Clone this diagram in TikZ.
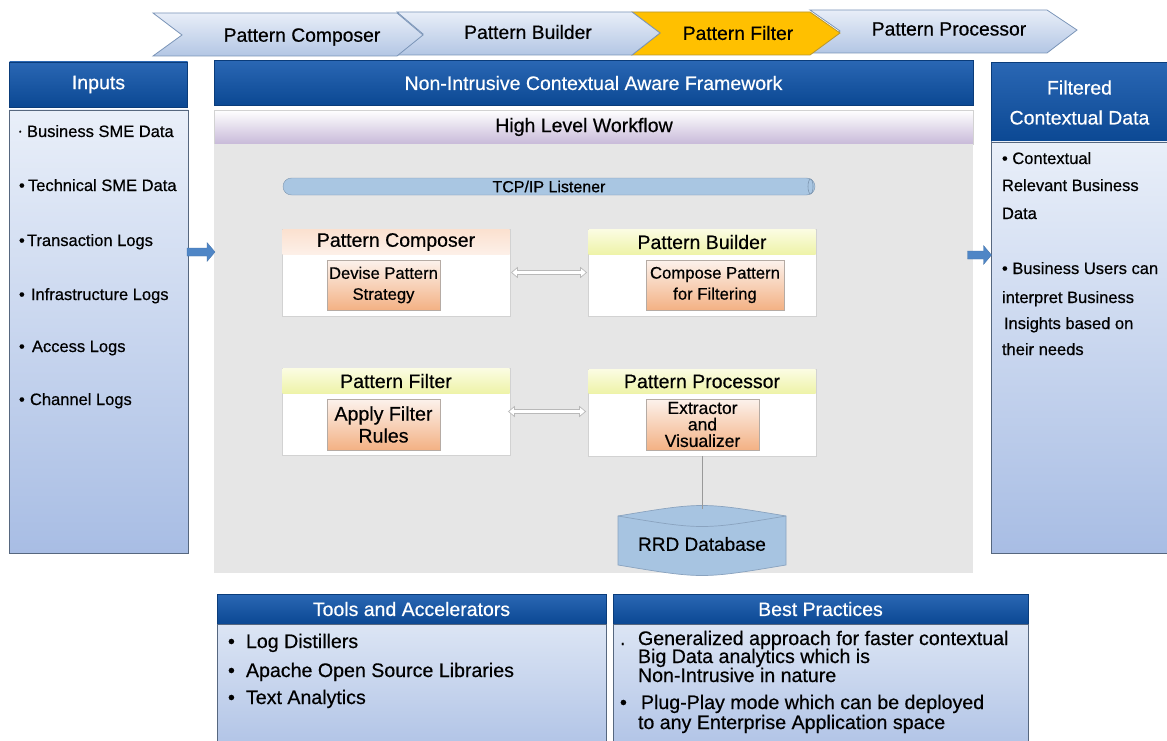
\documentclass[tikz,border=0pt]{standalone}
\usepackage{fontspec}
\setmainfont[FakeBold=0.5]{Liberation Sans}
\usetikzlibrary{shapes.geometric,shapes.misc,calc}
\newcommand{\myfs}[2]{\fontsize{#1pt}{#2pt}\selectfont}
\definecolor{hdrtop}{HTML}{2A67B4}
\definecolor{hdrbot}{HTML}{0B4893}
\definecolor{hdrline}{HTML}{0A3C7A}
\definecolor{paneltop}{HTML}{E9EFF9}
\definecolor{panelbot}{HTML}{A8BDE4}
\definecolor{paneltwotop}{HTML}{DCE5F4}
\definecolor{paneltwobot}{HTML}{B0C3E6}
\definecolor{panelline}{HTML}{56677F}
\definecolor{chevtop}{HTML}{E8EEF8}
\definecolor{chevbot}{HTML}{B3C6E4}
\definecolor{chevline}{HTML}{7B95B8}
\definecolor{chevyel}{HTML}{FFC000}
\definecolor{chevyline}{HTML}{B8962E}
\definecolor{graybg}{HTML}{E6E6E6}
\definecolor{hlwbot}{HTML}{C8BAD9}
\definecolor{pipefill}{HTML}{A9C6E2}
\definecolor{pipeline}{HTML}{7D96B0}
\definecolor{peachtop}{HTML}{FBE1D0}
\definecolor{peachbot}{HTML}{FDF0E8}
\definecolor{yeltop}{HTML}{FBFCE2}
\definecolor{yelbot}{HTML}{EEF3A8}
\definecolor{orangetop}{HTML}{FCF2EC}
\definecolor{orangebot}{HTML}{F3B184}
\definecolor{innerline}{HTML}{B5ABA4}
\definecolor{boxline}{HTML}{D2D2D2}
\definecolor{dbfill}{HTML}{A7C4E1}
\definecolor{dbline}{HTML}{8AA3BF}
\definecolor{arrowblue}{HTML}{4F86C6}
\tikzset{
  hdr/.style={draw=hdrline, top color=hdrtop, bottom color=hdrbot, text=white, font=\myfs{19.5}{30}, align=center},
  panel/.style={draw=panelline, line width=0.8, top color=paneltop, bottom color=panelbot},
  paneltwo/.style={draw=panelline, line width=0.8, top color=paneltwotop, bottom color=paneltwobot},
  txt/.style={font=\myfs{16.5}{20}, anchor=base west},
  bigtxt/.style={font=\myfs{19.6}{22}, anchor=base west},
  chev/.style={draw=chevline, line width=0.8, top color=chevtop, bottom color=chevbot},
  chevy/.style={draw=chevyline, line width=0.8, fill=chevyel},
  chevtext/.style={font=\myfs{19.3}{22}},
  wbox/.style={draw=boxline, fill=white},
  peachhdr/.style={top color=peachtop, bottom color=peachbot, font=\myfs{19.5}{22}},
  yelhdr/.style={top color=yeltop, bottom color=yelbot, font=\myfs{19.5}{22}},
  innerbox/.style={draw=innerline, top color=orangetop, bottom color=orangebot, align=center},
  dblarr/.style={draw=gray!55, fill=white, line width=0.7},
  blockarr/.style={fill=arrowblue, draw=arrowblue!85!black, line width=0.3},
  conn/.style={draw=gray!80, line width=0.8},
  every node/.style={inner sep=0pt, outer sep=0pt}
}
\begin{document}
\begin{tikzpicture}[x=1pt,y=-1pt]
\useasboundingbox (0,0) rectangle (1167,741);
\fill[white] (0,0) rectangle (1167,741);

% ---------- top chevrons ----------
\path[chev] (810,10) -- (1047,10) -- (1077,30) -- (1047,53) -- (810,53) -- (840,31) -- cycle;
\path[chevy] (632,12) -- (810,12) -- (840,33) -- (810,55) -- (632,55) -- (660,33) -- cycle;
\path[chev] (397,12) -- (632,12) -- (660,33) -- (632,55) -- (397,55) -- (423,34) -- cycle;
\path[chev] (153,13) -- (397,13) -- (423,35) -- (397,56) -- (153,56) -- (182,35) -- cycle;
\node[chevtext] (cv1) at (302,37) {Pattern Composer};
\node[chevtext] (cv2) at (528,32) {Pattern Builder};
\node[chevtext] (cv3) at (738,33) {Pattern Filter};
\node[chevtext] (cv4) at (949,29) {Pattern Processor};

% ---------- Inputs ----------
\node[hdr, minimum width=178, minimum height=45] (inh) at (98.5,84.5) {Inputs};
\node[panel, minimum width=179, minimum height=443] (inb) at (98.5,331.5) {};
\node[txt] (in1) at (19,137) {\makebox[8pt][l]{\raisebox{3pt}{\scriptsize•}}Business SME Data};
\node[txt] (in2) at (19,191) {\makebox[9pt][l]{•}Technical SME Data};
\node[txt] (in3) at (19,246) {\makebox[8pt][l]{•}Transaction Logs};
\node[txt] (in4) at (19,300) {\makebox[12pt][l]{•}Infrastructure Logs};
\node[txt] (in5) at (19,352) {\makebox[13pt][l]{•}Access Logs};
\node[txt] (in6) at (19,405) {\makebox[11pt][l]{•}Channel Logs};

% ---------- main framework ----------
\node[hdr, minimum width=759, minimum height=45] (mh) at (593.5,83) {Non-Intrusive Contextual Aware Framework};
\node[draw=gray!35, top color=white, bottom color=hlwbot, minimum width=759, minimum height=34] (hlw) at (593.5,127) {};
\node[font=\myfs{19.5}{22}] (hlwt) at (584,127) {High Level Workflow};
\node[fill=graybg, minimum width=759, minimum height=429, anchor=north] (gray) at (593.5,144) {};

\node[rounded rectangle, draw=pipeline, fill=pipefill, minimum width=532, minimum height=17, font=\myfs{16}{18}] (tcp) at (549,186.5) {TCP/IP Listener};
\draw[pipeline, line width=0.6] ($(tcp.east)+(-4.5,0)$) ellipse [x radius=2.5, y radius=7.5];

% Pattern Composer
\node[wbox, minimum width=228, minimum height=87] (pc) at (396,272.5) {};
\node[peachhdr, minimum width=227, minimum height=25, anchor=north] (pch) at ($(pc.north)+(0,0.5)$) {Pattern Composer};
\node[innerbox, minimum width=113, minimum height=50, font=\myfs{16.6}{21}] (dps) at (383.5,285) {Devise Pattern\\Strategy};

% Pattern Builder
\node[wbox, minimum width=228, minimum height=87] (pb) at (702,272.5) {};
\node[yelhdr, minimum width=227, minimum height=25, anchor=north] (pbh) at ($(pb.north)+(0,0.5)$) {Pattern Builder};
\node[innerbox, minimum width=138, minimum height=50, font=\myfs{16.7}{21}] (cpf) at (715,285) {Compose Pattern\\for Filtering};

% Pattern Filter
\node[wbox, minimum width=228, minimum height=87] (pf) at (396,411.5) {};
\node[yelhdr, minimum width=227, minimum height=25, anchor=north] (pfh) at ($(pf.north)+(0,0.5)$) {Pattern Filter};
\node[innerbox, minimum width=113, minimum height=51, font=\myfs{19.6}{22}] (afr) at (383.5,424.5) {Apply Filter\\Rules};

% Pattern Processor
\node[wbox, minimum width=228, minimum height=87] (pp) at (702,412.5) {};
\node[yelhdr, minimum width=227, minimum height=24, anchor=north] (pph) at ($(pp.north)+(0,0.5)$) {Pattern Processor};
\node[innerbox, minimum width=113, minimum height=51, font={\myfs{17.5}{16.5}\lineskiplimit=-50pt}] (eav) at (702.5,424.5) {Extractor\\and\\Visualizer};

% double arrows (hollow, both ends)
\draw[dblarr] let \p1=($(pc.east)+(1.5,0)$), \p2=($(pb.west)+(-1.5,0)$) in
  (\x1,\y1) -- (\x1+6pt,\y1+5pt) -- (\x1+6pt,\y1+2pt) -- (\x2-6pt,\y1+2pt) -- (\x2-6pt,\y1+5pt) -- (\x2,\y1)
  -- (\x2-6pt,\y1-5pt) -- (\x2-6pt,\y1-2pt) -- (\x1+6pt,\y1-2pt) -- (\x1+6pt,\y1-5pt) -- cycle;
\draw[dblarr] let \p1=($(pf.east)+(-1.5,0)$), \p2=($(pp.west)+(-2.5,0)$) in
  (\x1,\y1) -- (\x1+6pt,\y1+5pt) -- (\x1+6pt,\y1+2pt) -- (\x2-6pt,\y1+2pt) -- (\x2-6pt,\y1+5pt) -- (\x2,\y1)
  -- (\x2-6pt,\y1-5pt) -- (\x2-6pt,\y1-2pt) -- (\x1+6pt,\y1-2pt) -- (\x1+6pt,\y1-5pt) -- cycle;

% RRD database
\node[minimum width=168, minimum height=63] (db) at (702,540.5) {};
\draw[dbline, fill=dbfill, line width=0.7] ($(db.north west)+(0,7)$) .. controls ($(db.north)+(0,-7)$) .. ($(db.north east)+(0,7)$) -- ($(db.south east)+(0,-7)$) .. controls ($(db.south)+(0,7)$) .. ($(db.south west)+(0,-7)$) -- cycle;
\draw[dbline, line width=0.7] ($(db.north west)+(0,7)$) .. controls ($(db.north)+(0,21)$) .. ($(db.north east)+(0,7)$);
\node[font=\myfs{19}{22}] (dbt) at ($(db.center)+(0,3.5)$) {RRD Database};
\draw[conn] (pp.south) -- (db.north);

% ---------- Filtered Contextual Data ----------
\node[hdr, minimum width=176, minimum height=80] (fh) at (1079.5,102.5) {Filtered\\Contextual Data};
\node[panel, minimum width=176, minimum height=411] (fb) at (1079.5,347.5) {};
\node[txt] (f1) at (1002,164) {• Contextual};
\node[txt] (f2) at (1002,191) {Relevant Business};
\node[txt] (f3) at (1002,219) {Data};
\node[txt] (f4) at (1002,274) {• Business Users can};
\node[txt] (f5) at (1002,303) {interpret Business};
\node[txt] (f6) at (1004,329) {Insights based on};
\node[txt] (f7) at (1002,355) {their needs};

% block arrows
\coordinate (aL) at ($(inb.east |- 0,252)+(-1,0)$);
\coordinate (aR) at ($(fb.west |- 0,255)+(-24,0)$);
\path[blockarr] (aL) -- ++(0,4) -- ++(20,0) -- ++(0,5.5) -- ++(8,-9.5) -- ++(-8,-9.5) -- ++(0,5.5) -- ++(-20,0) -- cycle;
\path[blockarr] (aR) -- ++(0,4) -- ++(16,0) -- ++(0,5.5) -- ++(8,-9.5) -- ++(-8,-9.5) -- ++(0,5.5) -- ++(-16,0) -- cycle;

% ---------- Tools and Accelerators ----------
\node[hdr, minimum width=389, minimum height=30] (th) at (411.5,609) {Tools and Accelerators};
\node[paneltwo, minimum width=389, minimum height=125, anchor=north] (tb) at (th.south) {};
\node[bigtxt] (t1) at (228,648) {\makebox[18pt][l]{•}Log Distillers};
\node[bigtxt] (t2) at (228,677) {\makebox[18pt][l]{•}Apache Open Source Libraries};
\node[bigtxt] (t3) at (228,704) {\makebox[18pt][l]{•}Text Analytics};

% ---------- Best Practices ----------
\node[hdr, minimum width=415, minimum height=30] (bh) at (820.5,609) {Best Practices};
\node[paneltwo, minimum width=415, minimum height=125, anchor=north] (bb) at (bh.south) {};
\node[bigtxt] (b1) at (620,645) {\makebox[18pt][l]{.}Generalized approach for faster contextual};
\node[bigtxt] (b2) at (638,663) {Big Data analytics which is};
\node[bigtxt] (b3) at (638,682) {Non-Intrusive in nature};
\node[bigtxt] (b4) at (620,709) {\makebox[21pt][l]{•}Plug-Play mode which can be deployed};
\node[bigtxt] (b5) at (638,729) {to any Enterprise Application space};
\end{tikzpicture}
\end{document}
